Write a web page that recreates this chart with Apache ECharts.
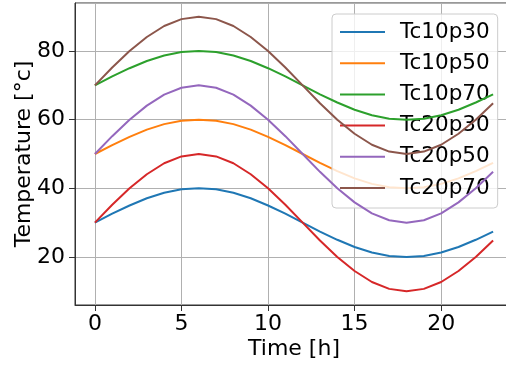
<!DOCTYPE html>
<html>
<head>
<meta charset="utf-8">
<script src="https://cdn.jsdelivr.net/npm/echarts@6/dist/echarts.min.js"></script>
<style>
html,body{margin:0;padding:0;background:#fff;}
#c{width:506px;height:368px;}
</style>
</head>
<body>
<div id="c"></div>
<script>
const hours = [0,1,2,3,4,5,6,7,8,9,10,11,12,13,14,15,16,17,18,19,20,21,22,23];
const seriesNames = ['Tc10p30','Tc10p50','Tc10p70','Tc20p30','Tc20p50','Tc20p70'];
const Tc10p30 = [30,32.6,35,37.1,38.7,39.7,40,39.7,38.7,37.1,35,32.6,30,27.4,25,22.9,21.3,20.3,20,20.3,21.3,22.9,25,27.4];
const Tc10p50 = [50,52.6,55,57.1,58.7,59.7,60,59.7,58.7,57.1,55,52.6,50,47.4,45,42.9,41.3,40.3,40,40.3,41.3,42.9,45,47.4];
const Tc10p70 = [70,72.6,75,77.1,78.7,79.7,80,79.7,78.7,77.1,75,72.6,70,67.4,65,62.9,61.3,60.3,60,60.3,61.3,62.9,65,67.4];
const Tc20p30 = [30,35.2,40,44.1,47.3,49.3,50,49.3,47.3,44.1,40,35.2,30,24.8,20,15.9,12.7,10.7,10,10.7,12.7,15.9,20,24.8];
const Tc20p50 = [50,55.2,60,64.1,67.3,69.3,70,69.3,67.3,64.1,60,55.2,50,44.8,40,35.9,32.7,30.7,30,30.7,32.7,35.9,40,44.8];
const Tc20p70 = [70,75.2,80,84.1,87.3,89.3,90,89.3,87.3,84.1,80,75.2,70,64.8,60,55.9,52.7,50.7,50,50.7,52.7,55.9,60,64.8];
const allValues = [Tc10p30,Tc10p50,Tc10p70,Tc20p30,Tc20p50,Tc20p70];
const colors = ['#1f77b4','#ff7f0e','#2ca02c','#d62728','#9467bd','#8c564b'];

const FONT = 'DejaVu Sans';
const FS = 22;
const chart = echarts.init(document.getElementById('c'), null, {renderer:'canvas'});
chart.setOption({
  animation:false,
  backgroundColor:'#ffffff',
  textStyle:{fontFamily:FONT},
  grid:{left:75, top:3, width:438, height:302, show:true, borderColor:'#333', borderWidth:1, backgroundColor:'transparent', containLabel:false, outerBoundsMode:'none'},
  legend:{
    orient:'vertical', left:332, top:14,
    data: seriesNames,
    icon:'rect', itemWidth:45, itemHeight:2, itemGap:5.2,
    padding:[5,8,7,8],
    backgroundColor:'rgba(255,255,255,0.8)', borderColor:'#cccccc', borderWidth:1, borderRadius:4,
    textStyle:{fontFamily:FONT, fontSize:21.5, color:'#000', lineHeight:26, padding:[0,0,0,10]}
  },
  xAxis:{
    type:'value', min:-1.15, max:24.15,
    name:'Time [h]', nameLocation:'middle', nameGap:33, nameMoveOverlap:false,
    nameTextStyle:{fontFamily:FONT, fontSize:FS, color:'#000'},
    axisLine:{show:true, onZero:false, lineStyle:{color:'#333', width:1}},
    axisTick:{show:true, length:6, lineStyle:{color:'#333'}},
    axisLabel:{fontFamily:FONT, fontSize:FS, color:'#000', margin:8, showMinLabel:false, showMaxLabel:false},
    splitLine:{show:true, lineStyle:{color:'#b0b0b0', width:1}}
  },
  yAxis:{
    type:'value', min:6, max:94,
    name:'Temperature [°c]', nameLocation:'middle', nameGap:40, nameMoveOverlap:false,
    nameTextStyle:{fontFamily:FONT, fontSize:FS, color:'#000'},
    axisLine:{show:true, onZero:false, lineStyle:{color:'#333', width:1}},
    axisTick:{show:true, length:6, lineStyle:{color:'#333'}},
    axisLabel:{fontFamily:FONT, fontSize:FS, color:'#000', margin:10, showMinLabel:false, showMaxLabel:false},
    splitLine:{show:true, lineStyle:{color:'#b0b0b0', width:1}}
  },
  series: seriesNames.map((n,i)=>({
    name:n, type:'line', showSymbol:false, symbol:'none',
    data: hours.map((h,j)=>[h, allValues[i][j]]),
    lineStyle:{color:colors[i], width:2},
    itemStyle:{color:colors[i]},
    z:2+i
  }))
});
</script>
</body>
</html>
